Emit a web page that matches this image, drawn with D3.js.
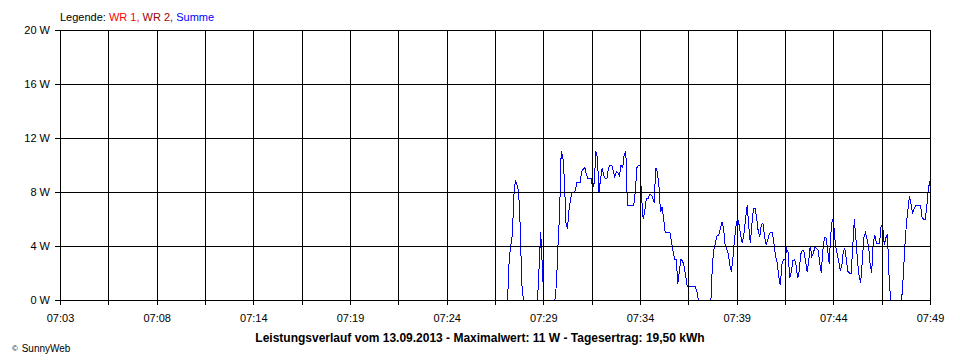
<!DOCTYPE html>
<html><head><meta charset="utf-8">
<script src="https://cdn.jsdelivr.net/npm/d3@7"></script>
<style>
body{margin:0;background:#fff}
svg{display:block}
text{font-family:Arial,"Liberation Sans",sans-serif}
</style>
</head><body><svg id="c" width="960" height="360"></svg>
<script>
// ---- data ----
const domainStart = "07:03:00";
const domainEnd = "07:49:00";
const xTickLabels = ["07:03","07:08","07:14","07:19","07:24","07:29","07:34","07:39","07:44","07:49"];
const yTicks = [0, 4, 8, 12, 16, 20];
const legendItems = [
  {label: "WR 1,", color: "#ff0000"},
  {label: "WR 2,", color: "#a00000"},
  {label: "Summe", color: "#0000ff"}
];
const startTime = "07:26:40";
const stepSeconds = 5;
const summeW = [
  0, 3, 4, 4.8, 7.8, 8.9, 8.5, 8.0, 5.5, 1.2,
  0, 0, 0, 0, 0, 0, 0, 0, 0, 0,
  2.5, 5.0, 2.5, 0, 0, 0, 0, 0, 0, 0,
  0, 1.2, 4.1, 6.5, 11.0, 10.7, 9.0, 5.7, 5.3, 6.7,
  7.5, 8.0, 8.0, 8.1, 8.7, 8.7, 8.7, 9.5, 9.7, 9.8,
  9.3, 9.0, 9.0, 9.0, 8.3, 8.7, 11.0, 10.5, 8.0, 9.0,
  9.8, 9.2, 9.0, 9.0, 9.8, 10.0, 10.0, 9.6, 9.1, 9.5,
  9.4, 9.2, 10.0, 9.8, 10.8, 11.0, 7.0, 7.0, 7.0, 7.0,
  7.0, 8.0, 9.8, 10.0, 10.0, 7.6, 6.0, 6.6, 7.5, 7.5,
  7.8, 7.8, 7.6, 7.2, 9.8, 9.5, 8.5, 6.5, 6.9, 6.0,
  5.0, 5.0, 5.0, 5.0, 4.3, 3.6, 3.0, 3.0, 1.2, 2.2,
  3.0, 2.9, 2.5, 1.8, 1.0, 1.0, 1.0, 1.0, 1.0, 1.0,
  0.7, 0, 0, 0, 0, 0, 0, 0, 0, 0,
  2.8, 3.8, 4.3, 4.8, 4.8, 5.3, 5.8, 5.3, 4.1, 3.8,
  3.4, 2.6, 2.1, 3.2, 4.5, 5.6, 6.0, 5.5, 4.7, 4.2,
  5.0, 6.0, 7.0, 5.5, 4.2, 5.6, 6.8, 6.8, 6.1, 5.1,
  4.7, 5.6, 5.7, 4.7, 4.1, 4.4, 4.9, 5.0, 5.0, 4.2,
  3.2, 2.8, 1.8, 1.1, 2.6, 3.0, 3.0, 3.8, 3.5, 1.6,
  2.1, 2.9, 3.0, 2.6, 1.6, 2.1, 3.4, 3.7, 3.6, 2.9,
  2.1, 2.8, 4.0, 3.2, 3.5, 3.9, 3.8, 3.7, 2.8, 2.0,
  3.7, 4.6, 4.6, 3.8, 2.7, 4.8, 6.0, 5.5, 4.1, 3.5,
  2.9, 2.2, 2.5, 3.6, 3.8, 2.9, 2.1, 2.0, 2.0, 4.0,
  6.0, 4.5, 2.9, 1.8, 1.3, 2.8, 4.6, 5.0, 4.5, 4.0,
  2.7, 2.0, 4.3, 4.8, 4.2, 4.2, 4.2, 5.5, 5.4, 4.1,
  4.6, 4.9, 1.8, 0, 0, 0, 0, 0, 0, 0,
  0, 1.7, 3.9, 5.6, 6.7, 7.7, 7.1, 6.4, 6.8, 7.0,
  7.0, 7.0, 7.0, 6.1, 6.0, 6.0, 7.0, 8.3, 8.8
];
const titleText = "Leistungsverlauf vom 13.09.2013 - Maximalwert: 11 W - Tagesertrag: 19,50 kWh";
const copyrightText = "SunnyWeb";

// ---- chart ----
(function () {
const parse = d3.timeParse("%H:%M:%S");
const t0 = parse(domainStart), t1 = parse(domainEnd);
const tStart = parse(startTime);
const data = summeW.map((v, i) => ({t: new Date(tStart.getTime() + i * stepSeconds * 1000), v}));

const pLeft = 60, pRight = 930, pTop = 30, pBottom = 300;
const x = d3.scaleTime().domain([t0, t1]).range([pLeft, pRight]);
const y = d3.scaleLinear().domain([0, 20]).range([pBottom, pTop]);

const nMinor = (xTickLabels.length - 1) * 2;
const gridTimes = d3.range(nMinor + 1).map(k => new Date(t0.getTime() + k * (t1 - t0) / nMinor));

const svg = d3.select("#c");
svg.append("rect").attr("width", 960).attr("height", 360).attr("fill", "#fff");

// line
svg.append("path")
  .datum(data)
  .attr("fill", "none")
  .attr("stroke", "#0000ff")
  .attr("stroke-width", 1)
  .attr("shape-rendering", "crispEdges")
  .attr("d", d3.line().x(d => x(d.t)).y(d => y(d.v)));

// grid
const grid = svg.append("g").attr("shape-rendering", "crispEdges").attr("stroke", "#000").attr("stroke-width", 1);
grid.selectAll(".h").data(yTicks).join("line")
  .attr("x1", pLeft).attr("x2", pRight)
  .attr("y1", d => Math.round(y(d)) + 0.5).attr("y2", d => Math.round(y(d)) + 0.5);
grid.selectAll(".v").data(gridTimes).join("line")
  .attr("x1", d => Math.round(x(d)) + 0.5).attr("x2", d => Math.round(x(d)) + 0.5)
  .attr("y1", pTop).attr("y2", pBottom);

// axes
const yAxis = d3.axisLeft(y).tickValues(yTicks).tickSize(5).tickSizeOuter(0).tickPadding(5)
  .tickFormat(d => d + " W");
const gy = svg.append("g").attr("transform", `translate(${pLeft},0)`).call(yAxis);
gy.select(".domain").remove();

const xAxis = d3.axisBottom(x).tickValues(gridTimes).tickSize(5).tickSizeOuter(0).tickPadding(9)
  .tickFormat((d, i) => i % 2 === 0 ? xTickLabels[i / 2] : "");
const gx = svg.append("g").attr("transform", `translate(0,${pBottom})`).call(xAxis);
gx.select(".domain").remove();

[gx, gy].forEach(g => {
  g.attr("font-family", "Arial, 'Liberation Sans', sans-serif").attr("font-size", 11);
  g.selectAll("line").attr("stroke", "#000").attr("shape-rendering", "crispEdges");
  g.selectAll("text").attr("fill", "#000");
});
// baseline on top
svg.append("line").attr("x1", pLeft).attr("x2", pRight)
  .attr("y1", Math.round(y(0)) + 0.5).attr("y2", Math.round(y(0)) + 0.5)
  .attr("stroke", "#000").attr("shape-rendering", "crispEdges");

// legend
const lg = svg.append("text").attr("x", 60).attr("y", 21).attr("font-size", 11).attr("fill", "#000");
lg.append("tspan").text("Legende:");
legendItems.forEach(it => {
  lg.append("tspan").attr("fill", "#000").text(" ");
  lg.append("tspan").attr("fill", it.color).text(it.label);
});

// title
svg.append("text").attr("x", 480).attr("y", 342).attr("text-anchor", "middle")
  .attr("font-size", 12).attr("font-weight", "bold").attr("fill", "#000").text(titleText);

// copyright
const cp = svg.append("text").attr("x", 12).attr("y", 352).attr("fill", "#000");
cp.append("tspan").attr("font-size", 8).attr("dy", -1).text("©");
cp.append("tspan").attr("font-size", 10).attr("dy", 1).attr("dx", 1).text(" " + copyrightText);
})();
</script>
</body></html>
